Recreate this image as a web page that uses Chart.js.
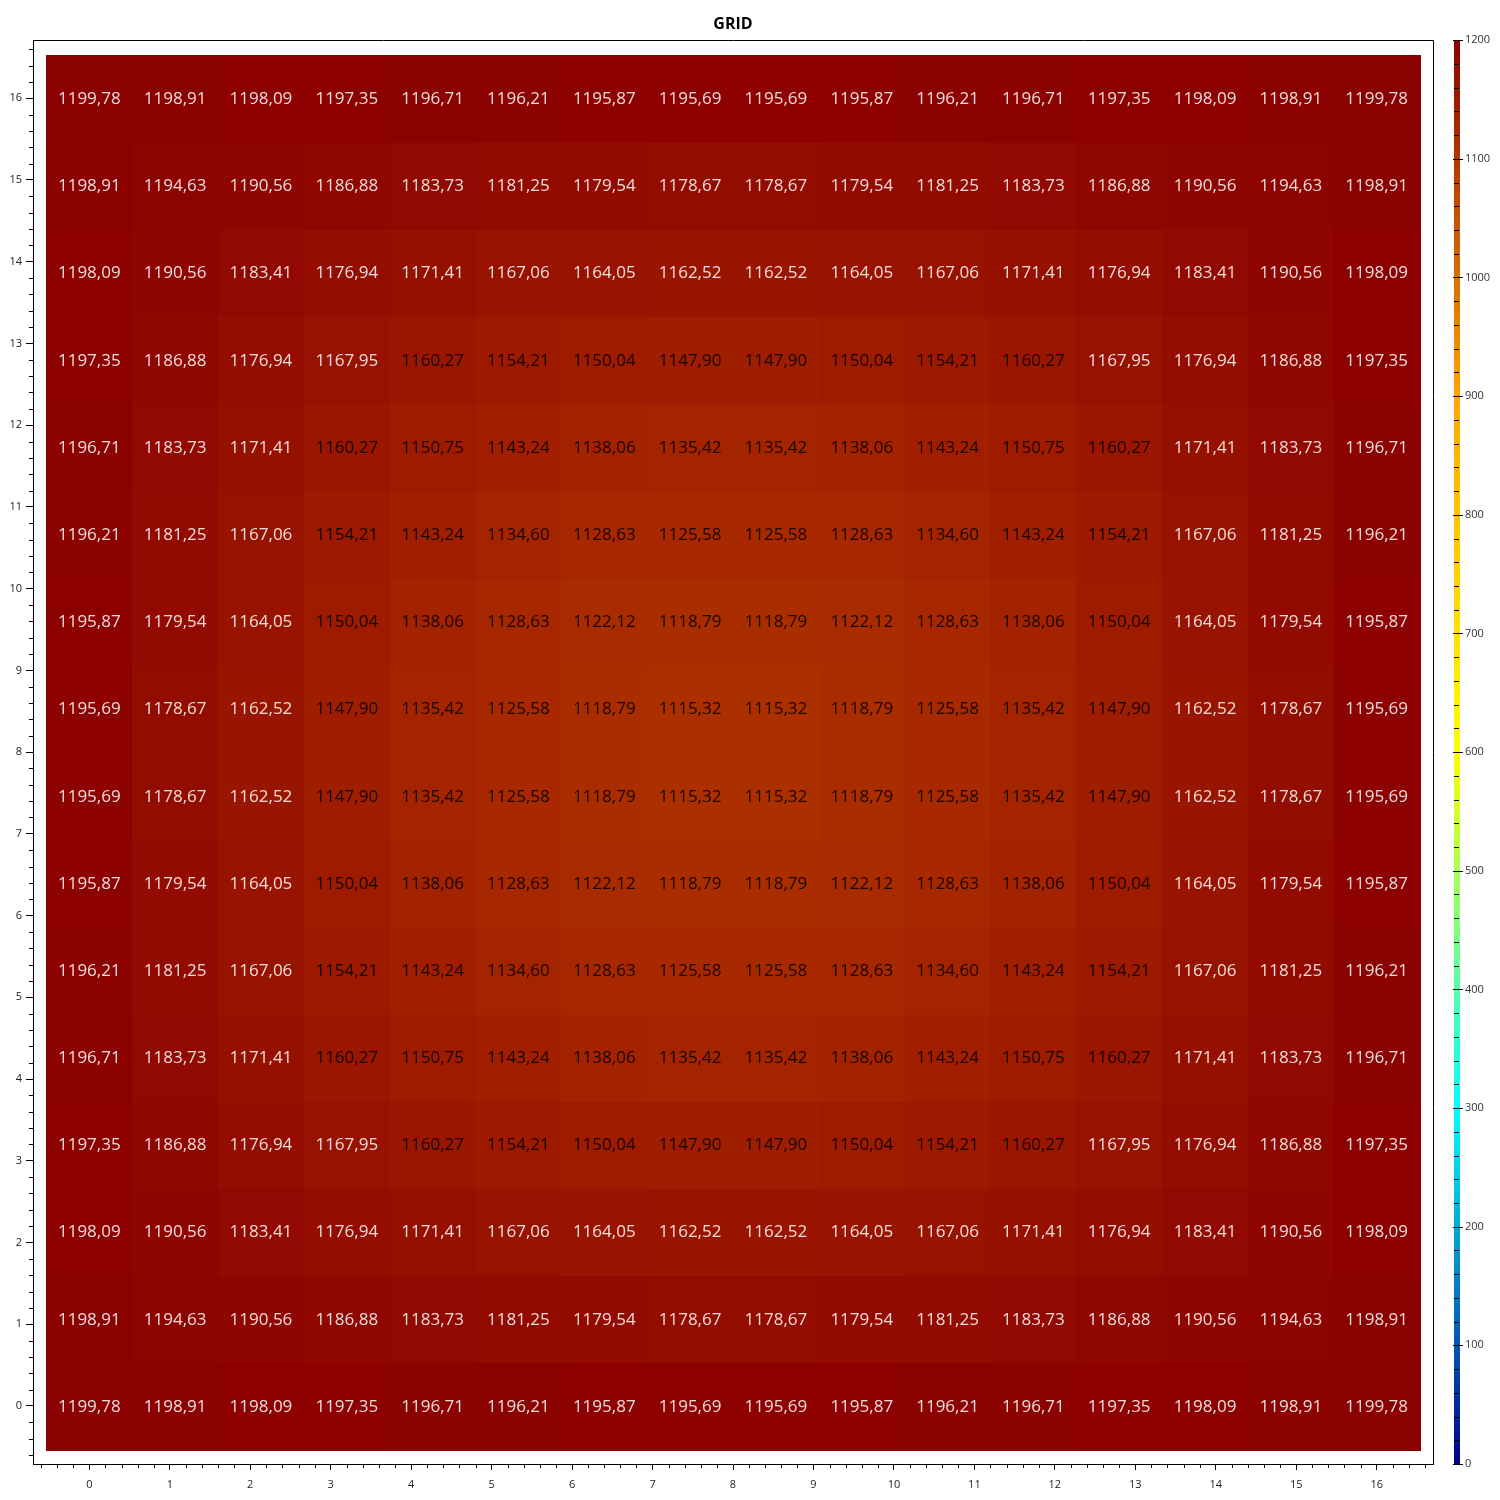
<!DOCTYPE html>
<html>
<head>
<meta charset="utf-8">
<title>GRID</title>
<script src="https://cdn.jsdelivr.net/npm/chart.js@4.4.1/dist/chart.umd.min.js"></script>
<style>
  html, body { margin: 0; padding: 0; background: #fff; }
</style>
</head>
<body>
<canvas id="gridChart" width="1500" height="1500"></canvas>
<script>
// tick labels
const xTickLabels = [0, 1, 2, 3, 4, 5, 6, 7, 8, 9, 10, 11, 12, 13, 14, 15, 16];
const yTickLabels = [0, 1, 2, 3, 4, 5, 6, 7, 8, 9, 10, 11, 12, 13, 14, 15, 16];
const colorTicks = [0, 100, 200, 300, 400, 500, 600, 700, 800, 900, 1000, 1100, 1200];

// grid spans 0..16 on both axes, rows listed from bottom (y = 0) to top (y = 16)
const gridMin = 0;
const gridMax = 16;
const gridValues = [
  [1199.78, 1198.91, 1198.09, 1197.35, 1196.71, 1196.21, 1195.87, 1195.69, 1195.69, 1195.87, 1196.21, 1196.71, 1197.35, 1198.09, 1198.91, 1199.78],
  [1198.91, 1194.63, 1190.56, 1186.88, 1183.73, 1181.25, 1179.54, 1178.67, 1178.67, 1179.54, 1181.25, 1183.73, 1186.88, 1190.56, 1194.63, 1198.91],
  [1198.09, 1190.56, 1183.41, 1176.94, 1171.41, 1167.06, 1164.05, 1162.52, 1162.52, 1164.05, 1167.06, 1171.41, 1176.94, 1183.41, 1190.56, 1198.09],
  [1197.35, 1186.88, 1176.94, 1167.95, 1160.27, 1154.21, 1150.04, 1147.90, 1147.90, 1150.04, 1154.21, 1160.27, 1167.95, 1176.94, 1186.88, 1197.35],
  [1196.71, 1183.73, 1171.41, 1160.27, 1150.75, 1143.24, 1138.06, 1135.42, 1135.42, 1138.06, 1143.24, 1150.75, 1160.27, 1171.41, 1183.73, 1196.71],
  [1196.21, 1181.25, 1167.06, 1154.21, 1143.24, 1134.60, 1128.63, 1125.58, 1125.58, 1128.63, 1134.60, 1143.24, 1154.21, 1167.06, 1181.25, 1196.21],
  [1195.87, 1179.54, 1164.05, 1150.04, 1138.06, 1128.63, 1122.12, 1118.79, 1118.79, 1122.12, 1128.63, 1138.06, 1150.04, 1164.05, 1179.54, 1195.87],
  [1195.69, 1178.67, 1162.52, 1147.90, 1135.42, 1125.58, 1118.79, 1115.32, 1115.32, 1118.79, 1125.58, 1135.42, 1147.90, 1162.52, 1178.67, 1195.69],
  [1195.69, 1178.67, 1162.52, 1147.90, 1135.42, 1125.58, 1118.79, 1115.32, 1115.32, 1118.79, 1125.58, 1135.42, 1147.90, 1162.52, 1178.67, 1195.69],
  [1195.87, 1179.54, 1164.05, 1150.04, 1138.06, 1128.63, 1122.12, 1118.79, 1118.79, 1122.12, 1128.63, 1138.06, 1150.04, 1164.05, 1179.54, 1195.87],
  [1196.21, 1181.25, 1167.06, 1154.21, 1143.24, 1134.60, 1128.63, 1125.58, 1125.58, 1128.63, 1134.60, 1143.24, 1154.21, 1167.06, 1181.25, 1196.21],
  [1196.71, 1183.73, 1171.41, 1160.27, 1150.75, 1143.24, 1138.06, 1135.42, 1135.42, 1138.06, 1143.24, 1150.75, 1160.27, 1171.41, 1183.73, 1196.71],
  [1197.35, 1186.88, 1176.94, 1167.95, 1160.27, 1154.21, 1150.04, 1147.90, 1147.90, 1150.04, 1154.21, 1160.27, 1167.95, 1176.94, 1186.88, 1197.35],
  [1198.09, 1190.56, 1183.41, 1176.94, 1171.41, 1167.06, 1164.05, 1162.52, 1162.52, 1164.05, 1167.06, 1171.41, 1176.94, 1183.41, 1190.56, 1198.09],
  [1198.91, 1194.63, 1190.56, 1186.88, 1183.73, 1181.25, 1179.54, 1178.67, 1178.67, 1179.54, 1181.25, 1183.73, 1186.88, 1190.56, 1194.63, 1198.91],
  [1199.78, 1198.91, 1198.09, 1197.35, 1196.71, 1196.21, 1195.87, 1195.69, 1195.69, 1195.87, 1196.21, 1196.71, 1197.35, 1198.09, 1198.91, 1199.78]
];

// colour map 0..1200 (dark blue -> cyan -> yellow -> orange -> dark red)
const colorMin = 0;
const colorMax = 1200;
const colorStops = [
  [0, [0, 0, 139]],
  [0.25, [0, 255, 255]],
  [0.5, [255, 255, 0]],
  [0.75, [255, 165, 0]],
  [1, [139, 0, 0]]
];

function valueColor(v) {
  const t = Math.min(1, Math.max(0, (v - colorMin) / (colorMax - colorMin)));
  for (let i = 1; i < colorStops.length; i++) {
    const [t0, c0] = colorStops[i - 1];
    const [t1, c1] = colorStops[i];
    if (t <= t1) {
      const f = (t - t0) / (t1 - t0);
      const c = c0.map((a, k) => Math.round(a + (c1[k] - a) * f));
      return `rgb(${c[0]},${c[1]},${c[2]})`;
    }
  }
  return 'rgb(139,0,0)';
}

const cellW = (gridMax - gridMin) / (gridValues[0].length - 1);
const cellH = (gridMax - gridMin) / (gridValues.length - 1);
const cells = [];
gridValues.forEach((row, r) => {
  row.forEach((v, c) => {
    cells.push({ x: gridMin + c * cellW, y: gridMin + r * cellH, v: v });
  });
});

const FONT = "'Open Sans', 'Noto Sans', sans-serif";

const heatmapPlugin = {
  id: 'heatmap',
  beforeDatasetsDraw(chart) {
    const { ctx, chartArea } = chart;
    const xs = chart.scales.x, ys = chart.scales.y, cb = chart.scales.cb;
    const pts = chart.data.datasets[0].data;

    ctx.save();
    // cells
    pts.forEach(p => {
      const l = Math.round(xs.getPixelForValue(p.x - cellW / 2));
      const r = Math.round(xs.getPixelForValue(p.x + cellW / 2));
      const t = Math.round(ys.getPixelForValue(p.y + cellH / 2));
      const b = Math.round(ys.getPixelForValue(p.y - cellH / 2));
      ctx.fillStyle = valueColor(p.v);
      ctx.fillRect(l, t, r - l + 1, b - t + 1);
    });

    // cell labels
    ctx.font = `17px ${FONT}`;
    ctx.textAlign = 'center';
    ctx.textBaseline = 'middle';
    pts.forEach(p => {
      ctx.fillStyle = p.v >= 1161 ? 'rgba(255,255,255,0.86)' : 'rgba(0,0,0,0.85)';
      ctx.fillText(p.v.toFixed(2).replace('.', ','), xs.getPixelForValue(p.x), ys.getPixelForValue(p.y) + 1);
    });

    // frame top / right
    ctx.strokeStyle = '#000';
    ctx.lineWidth = 1;
    ctx.beginPath();
    ctx.moveTo(Math.round(chartArea.left) + 0.5, Math.round(chartArea.top) + 0.5);
    ctx.lineTo(Math.round(chartArea.right) + 0.5, Math.round(chartArea.top) + 0.5);
    ctx.lineTo(Math.round(chartArea.right) + 0.5, Math.round(chartArea.bottom) + 0.5);
    ctx.stroke();

    // minor ticks
    ctx.beginPath();
    for (let k = -3; k <= 83; k++) {
      if (k % 5 === 0) continue;
      const v = k * 0.2;
      if (v > xs.min && v < xs.max) {
        const px = Math.round(xs.getPixelForValue(v)) + 0.5;
        ctx.moveTo(px, xs.top);
        ctx.lineTo(px, xs.top + 4);
      }
      if (v > ys.min && v < ys.max) {
        const py = Math.round(ys.getPixelForValue(v)) + 0.5;
        ctx.moveTo(ys.right - 4, py);
        ctx.lineTo(ys.right, py);
      }
    }
    ctx.stroke();

    // colour bar
    const barL = chartArea.right + 21;
    const barW = 6;
    const yTop = cb.getPixelForValue(colorMax);
    const yBot = cb.getPixelForValue(colorMin);
    const grad = ctx.createLinearGradient(0, yBot, 0, yTop);
    colorStops.forEach(([t, c]) => grad.addColorStop(t, `rgb(${c[0]},${c[1]},${c[2]})`));
    ctx.fillStyle = grad;
    ctx.fillRect(barL, yTop, barW, yBot - yTop);

    ctx.beginPath();
    for (let v = colorMin; v <= colorMax; v += 20) {
      const py = Math.round(cb.getPixelForValue(v)) + 0.5;
      if (v % 100 === 0) {
        ctx.moveTo(barL - 1, py);
        ctx.lineTo(barL + barW + 3, py);
      } else {
        ctx.moveTo(barL, py);
        ctx.lineTo(barL + barW - 1, py);
      }
    }
    ctx.stroke();
    ctx.restore();
  }
};

const axisFont = { family: FONT, size: 11 };

new Chart(document.getElementById('gridChart'), {
  type: 'scatter',
  data: {
    datasets: [{
      data: cells,
      pointRadius: 0,
      pointHoverRadius: 0
    }]
  },
  options: {
    responsive: false,
    animation: false,
    devicePixelRatio: 1,
    layout: { padding: 0 },
    plugins: {
      legend: { display: false },
      tooltip: { enabled: false },
      title: {
        display: true,
        text: 'GRID',
        fullSize: false,
        color: '#000',
        font: { family: FONT, size: 16, weight: 'bold' },
        padding: { top: 15, bottom: 6 }
      }
    },
    scales: {
      x: {
        type: 'linear',
        position: 'bottom',
        min: -0.7,
        max: 16.7,
        afterBuildTicks: s => { s.ticks = xTickLabels.map(v => ({ value: v })); },
        afterFit: s => { s.height = 36; },
        grid: { drawOnChartArea: false, tickLength: 6, color: '#000', tickColor: '#000' },
        border: { display: true, color: '#000', width: 1 },
        ticks: { font: axisFont, color: '#222', padding: 8, maxRotation: 0, autoSkip: false }
      },
      y: {
        type: 'linear',
        position: 'left',
        min: -0.71,
        max: 16.71,
        afterBuildTicks: s => { s.ticks = yTickLabels.map(v => ({ value: v })); },
        afterFit: s => { s.width = 33; },
        grid: { drawOnChartArea: false, tickLength: 7, color: '#000', tickColor: '#000' },
        border: { display: true, color: '#000', width: 1 },
        ticks: { font: axisFont, color: '#222', padding: 4, autoSkip: false }
      },
      cb: {
        type: 'linear',
        position: 'right',
        min: colorMin,
        max: colorMax,
        afterBuildTicks: s => { s.ticks = colorTicks.map(v => ({ value: v })); },
        afterFit: s => {
          s.width = 67;
          s.paddingTop = 7;
          s.paddingBottom = 7;
        },
        grid: { display: false, drawTicks: false, drawOnChartArea: false },
        border: { display: false },
        ticks: {
          font: axisFont,
          color: '#333',
          padding: 32,
          autoSkip: false,
          callback: v => String(v)
        }
      }
    }
  },
  plugins: [heatmapPlugin]
});
</script>
</body>
</html>
